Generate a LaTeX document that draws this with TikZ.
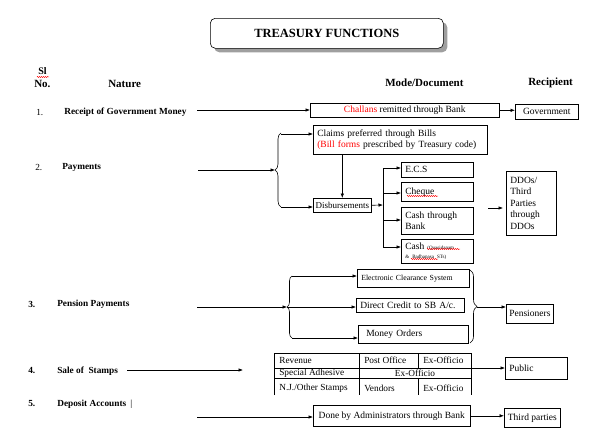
\documentclass[tikz,border=0pt]{standalone}
\usepackage{fontspec}
\setmainfont{Liberation Serif}
\usetikzlibrary{arrows.meta,shadows,decorations.pathreplacing,decorations.pathmorphing}

\tikzset{
  arr/.style={-{Latex[length=4.5pt,width=3.5pt]}},
  box/.style={draw, anchor=north west, inner xsep=4pt, inner ysep=1pt, align=left,
    font=\fontsize{9.5}{11}\selectfont},
  head/.style={anchor=west, inner sep=0pt, font=\bfseries\fontsize{11}{12}\selectfont},
  lbl/.style={anchor=west, inner sep=0pt, font=\bfseries\fontsize{9.3}{11}\selectfont},
  num/.style={anchor=west, inner sep=0pt, font=\fontsize{9.3}{11}\selectfont},
  cell/.style={anchor=west, inner sep=0pt, font=\fontsize{9.3}{11}\selectfont},
  curly/.style={decorate, decoration={brace, amplitude=#1}},
  squig/.style={red, line width=0.4pt, decorate, decoration={snake, amplitude=0.6pt, segment length=2pt}},
}

\begin{document}
\begin{tikzpicture}[x=1pt, y=-1pt, line width=0.6pt]
    \useasboundingbox (0,0) rectangle (606,447);

    % title
    \node[draw, rounded corners=5pt, anchor=north west, minimum width=233pt, minimum height=30pt,
      fill=white, drop shadow={shadow xshift=4pt, shadow yshift=-4pt, fill=gray!75, opacity=1},
      font=\bfseries\fontsize{12.5}{14}\selectfont] (title) at (210,18) {TREASURY FUNCTIONS};

    % column heads
    \node[head, font=\bfseries\fontsize{10}{11}\selectfont] (sl) at (38,71) {Sl};
    \node[head] (slno) at (34,84) {No.};
    \node[head] (nature) at (108,84) {Nature};
    \node[head] (mode) at (385,83) {Mode/Document};
    \node[head] (recip) at (528,83) {Recipient};
    \draw[squig] (37,77) -- (49,77);

    % 1. receipt
    \node[num] (n1) at (36,112) {1.};
    \node[lbl] (receipt) at (64,112) {Receipt of Government Money};
    \node[box, align=center, minimum width=189pt, minimum height=14pt] (chal) at (310,103)
      {{\color{red}Challans} remitted through Bank};
    \node[box, align=center, minimum width=63pt, minimum height=15pt] (gov) at (515,104) {Government};
    \coordinate (r1) at (197,110);
    \draw[arr] (r1) -- (r1 -| chal.west);
    \draw[arr] (chal.east) -- (chal.east -| gov.west);

    % 2. payments
    \node[num] (n2) at (35,167) {2.};
    \node[lbl] (pay) at (62,167) {Payments};
    \node[box, text width=166pt, minimum height=29pt] (claims) at (313,125)
      {Claims preferred through Bills\\{\color{red}(Bill forms} prescribed by Treasury code)};
    \node[box, inner xsep=1.5pt, font=\fontsize{9}{10}\selectfont, minimum width=58pt, minimum height=14pt] (disb) at (313,198) {Disbursements};
    \node[box, text width=64pt, minimum height=15pt] (ecs) at (401,162) {E.C.S};
    \node[box, text width=64pt, minimum height=19pt] (chq) at (401,182) {Cheque};
    \node[box, text width=64pt, minimum height=27pt] (ctb) at (401,207) {Cash through\\Bank};
    \node[box, text width=64pt, minimum height=24pt] (cash) at (401,239)
      {Cash {\fontsize{5}{6}\selectfont (Quasidanam}\\[-2pt]{\fontsize{5}{6}\selectfont \& Badhapasa STs)}};
    \node[box, text width=42pt, minimum height=64pt, font=\fontsize{9.5}{11.5}\selectfont] (ddo) at (506,171)
      {DDOs/\\Third\\Parties\\through\\DDOs};
    \draw[squig] (407,196) -- (438,196);
    \draw[squig] (427,249) -- (460,249);
    \draw[squig] (411,259) -- (438,259);

    \draw[curly=6pt] (281,207) -- (281,133);
    \coordinate (ptop) at (281,134);
    \coordinate (pbot) at (281,207);
    \coordinate (ptip) at (275,170);
    \coordinate (r2) at (198,170);
    \draw[arr] (r2) -- (ptip);
    \draw[arr] (ptop) -- (ptop -| claims.west);
    \draw[arr] (pbot) -- (pbot -| disb.west);
    \draw[arr] (claims.south -| disb.north) -- (disb.north);

    % fan to the modes
    \coordinate (fan) at (383,205);
    \draw[arr] (disb.east) -- (fan);
    \draw (383,168) -- (383,247);
    \foreach \b/\y in {ecs/168, chq/193, ctb/220, cash/247}
      \draw[arr] (383,\y) -- (401,\y);
    \coordinate (stub) at (488,208);
    \draw[arr, shorten >=3pt] (stub) -- (stub -| ddo.west);

    % 3. pension
    \node[lbl] (n3) at (28,304) {3.};
    \node[lbl] (pens3) at (57,304) {Pension Payments};
    \node[box, text width=104pt, minimum height=18pt, font=\fontsize{7.8}{9}\selectfont] (ecs2) at (357,269)
      {Electronic Clearance System};
    \node[box, text width=100pt, minimum height=14pt] (dcr) at (356,298) {Direct Credit to SB A/c.};
    \node[box, inner xsep=8pt, text width=94pt, minimum height=18pt] (mo) at (358,325) {Money Orders};
    \node[box, inner xsep=3pt, text width=41pt, minimum height=19pt] (pens) at (506,304) {Pensioners};

    \draw[curly=5pt] (292,338) -- (292,276);
    \coordinate (qtop) at (292,276);
    \coordinate (qbot) at (292,338);
    \coordinate (qtip) at (287,307);
    \coordinate (r3) at (197,307);
    \draw[arr] (r3) -- (qtip);
    \draw[arr] (qtop) -- (qtop -| ecs2.west);
    \draw[arr] (qtip) -- (qtip -| dcr.west);
    \draw[arr] (qbot) -- (qbot -| mo.west);
    \draw[curly=7pt] (470,270) -- (470,343);
    \coordinate (qout) at (477,307);
    \draw[arr] (qout) -- (qout -| pens.west);

    % 4. stamps
    \node[lbl] (n4) at (28,371) {4.};
    \node[lbl] (stamps) at (57,371) {Sale of \ Stamps};
    \coordinate (r4a) at (127,370);
    \coordinate (r4b) at (243,370);
    \draw[arr] (r4a) -- (r4b);
    \draw (274,395) -- (274,353) -- (471,353) -- (471,395);
    \draw (274,368) -- (471,368) (274,378) -- (471,378);
    \draw (359,353) -- (359,395);
    \draw (418,353) -- (418,368) (418,378) -- (418,395);
    \node[cell] (c11) at (279,360) {Revenue};
    \node[cell] (c12) at (364,360) {Post Office};
    \node[cell] (c13) at (423,360) {Ex-Officio};
    \node[cell] (c21) at (279,373) {Special Adhesive};
    \node[cell, anchor=center] (c22) at (415,373) {Ex-Officio};
    \node[cell] (c31) at (279,388) {N.J./Other Stamps};
    \node[cell] (c32) at (364,388) {Vendors};
    \node[cell] (c33) at (423,388) {Ex-Officio};
    \node[box, text width=54pt, minimum height=22pt] (pub) at (505,357) {Public};
    \coordinate (tbl) at (471,368);
    \draw[arr] (tbl) -- (tbl -| pub.west);

    % 5. deposits
    \node[lbl] (n5) at (28,404) {5.};
    \node[lbl] (dep) at (57,404) {Deposit Accounts\hspace{4pt}{\mdseries|}};
    \node[box, align=center, minimum width=157pt, minimum height=21pt] (done) at (313,405)
      {Done by Administrators through Bank};
    \node[box, align=center, inner xsep=2pt, minimum width=56pt, minimum height=19pt] (third) at (504,408) {Third parties};
    \coordinate (r5) at (197,417);
    \draw[arr] (r5) -- (r5 -| done.west);
    \draw[arr] (done.east) -- (done.east -| third.west);
\end{tikzpicture}
\end{document}
